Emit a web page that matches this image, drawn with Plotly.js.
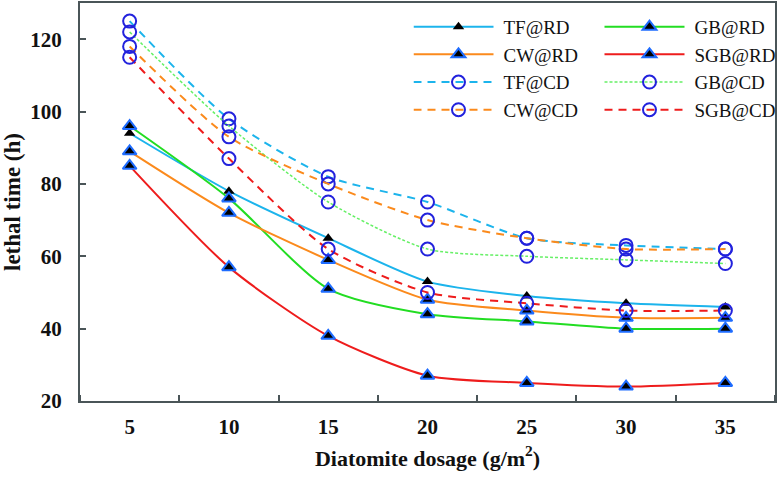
<!DOCTYPE html>
<html>
<head>
<meta charset="utf-8">
<script src="https://cdn.plot.ly/plotly-3.0.1.min.js"></script>
<style>html,body{margin:0;padding:0;background:#fff;}#chart{width:779px;height:477px;}</style>
</head>
<body>
<div id="chart"></div>
<script>
const dosage = [5, 10, 15, 20, 25, 30, 35];
const TF_RD  = [94, 78, 65, 53, 49, 47, 46];
const GB_RD  = [96, 76, 51, 44, 42, 40, 40];
const CW_RD  = [89, 72, 59, 48, 45, 43, 43];
const SGB_RD = [85, 57, 38, 27, 25, 24, 25];
const TF_CD  = [125, 98, 82, 75, 65, 63, 62];
const GB_CD  = [122, 96, 75, 62, 60, 59, 58];
const CW_CD  = [118, 93, 80, 70, 65, 62, 62];
const SGB_CD = [115, 87, 62, 50, 47, 45, 45];
const names = ['TF@RD','GB@RD','CW@RD','SGB@RD','TF@CD','GB@CD','CW@CD','SGB@CD'];
const xTickLabels = ['5','10','15','20','25','30','35'];
const yTicks = [20, 40, 60, 80, 100, 120];

const serif = 'Liberation Serif, Times New Roman, serif';
const cyan = '#1cb4ec', green = '#22dd22', orange = '#fb8a1c', red = '#ee1c1c', lgreen = '#66f066';
const triBlue = {symbol:'triangle-up', size:12, color:'#000', line:{color:'#1e6cff', width:2}};
const triBlack = {symbol:'triangle-up', size:10, color:'#000', line:{color:'#000', width:0}};
const circ = {symbol:'circle-open', size:13, color:'#2222dd', line:{color:'#2222dd', width:2}};

function tr(y, name, color, dash, width, marker){
  return {x: dosage, y: y, name: name, type:'scatter', mode:'lines+markers',
    line:{color:color, width:width, dash:dash, shape:'spline', smoothing:0.7},
    marker: marker};
}
const data = [
  tr(TF_RD, names[0], cyan, 'solid', 2, triBlack),
  tr(GB_RD, names[1], green, 'solid', 2, triBlue),
  tr(CW_RD, names[2], orange, 'solid', 2, triBlue),
  tr(SGB_RD, names[3], red, 'solid', 2, triBlue),
  tr(TF_CD, names[4], cyan, '8px,6px', 2, circ),
  tr(GB_CD, names[5], lgreen, '3px,2px', 1.5, circ),
  tr(CW_CD, names[6], orange, '8px,6px', 2, circ),
  tr(SGB_CD, names[7], red, '8px,6px', 2, circ)
];
const axisColor = '#4a5558';
const layout = {
  width:779, height:477,
  margin:{l:80, r:4, t:3, b:76, autoexpand:false},
  paper_bgcolor:'#fff', plot_bgcolor:'#fff',
  showlegend:true,
  legend:{orientation:'h', x:1.0295, y:0.988, xanchor:'right', yanchor:'top',
    entrywidth:96, entrywidthmode:'pixels', itemwidth:80,
    font:{family:serif, size:19, color:'#111'},
    bgcolor:'rgba(0,0,0,0)', tracegroupgap:0},
  xaxis:{range:[2.5,37.5], tickvals:dosage, ticktext:xTickLabels, ticks:'',
    showgrid:false, zeroline:false, showline:true, linecolor:axisColor, linewidth:2, mirror:true,
    tickfont:{family:serif, size:21, color:'#111', weight:'bold'},
    ticklabelstandoff:6,
    minor:{tick0:2.5, dtick:5, ticks:'inside', ticklen:6, tickwidth:2, tickcolor:axisColor, showgrid:false},
    title:{text:'Diatomite dosage (g/m<sup>2</sup>)', standoff:12,
      font:{family:serif, size:22, color:'#111', weight:'bold'}}},
  yaxis:{range:[20,130], tickvals:yTicks, ticks:'inside', ticklen:6, tickwidth:2, tickcolor:axisColor,
    showgrid:false, zeroline:false, showline:true, linecolor:axisColor, linewidth:2, mirror:true,
    tickfont:{family:serif, size:21, color:'#111', weight:'bold'},
    ticklabelstandoff:12,
    title:{text:'lethal time (h)', standoff:8,
      font:{family:serif, size:23, color:'#111', weight:'bold'}}}
};
Plotly.newPlot('chart', data, layout, {displayModeBar:false, staticPlot:true}).then(function(gd){
  gd.querySelectorAll('.legend .legendlines path').forEach(function(p){
    p.setAttribute('d', 'M0,0h80');
  });
});
</script>
</body>
</html>
